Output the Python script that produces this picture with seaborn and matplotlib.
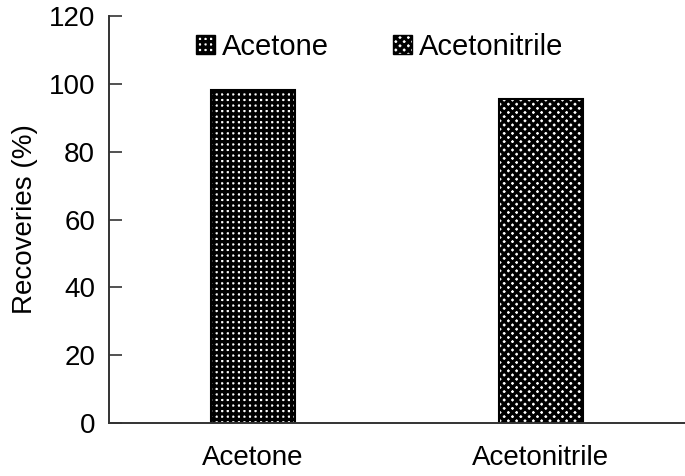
import numpy as np
import pandas as pd
import matplotlib
matplotlib.use('Agg')
import matplotlib.pyplot as plt
import seaborn as sns
from matplotlib.patches import Patch

# data
solvents = ['Acetone', 'Acetonitrile']
recoveries = [98.2, 95.6]
hatches = ['+++', 'xxxx']

df = pd.DataFrame({'solvent': solvents, 'recovery': recoveries})

sns.set_style('white')
plt.rcParams['font.family'] = ['Liberation Sans', 'DejaVu Sans']
plt.rcParams['hatch.linewidth'] = 2.4
plt.rcParams['text.color'] = 'black'
plt.rcParams['xtick.color'] = 'black'
plt.rcParams['ytick.color'] = 'black'
plt.rcParams['axes.labelcolor'] = 'black'

fig = plt.figure(figsize=(6.85, 4.76), dpi=100)
ax = fig.add_axes([109 / 685, 1 - 423 / 476, 576 / 685, 407 / 476])

sns.barplot(data=df, x='solvent', y='recovery', hue='solvent', ax=ax,
            width=0.29, legend=False, palette=['white', 'white'],
            edgecolor='black', linewidth=1.5)

for bar, h in zip(ax.patches, hatches):
    bar.set_hatch(h)

ax.set_ylim(0, 120)
ax.set_yticks(np.arange(0, 121, 20))
ax.set_xlim(-0.5, 1.5)
ax.set_xticks([0, 1])
ax.set_xticklabels(solvents)
ax.set_xticks([0.5], minor=True)
ax.tick_params(axis='x', which='major', length=0, labelsize=20, pad=16)
ax.tick_params(axis='x', which='minor', length=8, direction='in', width=1.2, color='#333333')
ax.tick_params(axis='y', length=9, direction='in', width=1.2, color='#333333',
               labelsize=20, pad=10, left=True)
ax.set_xlabel('')
ax.set_ylabel('Recoveries (%)', fontsize=20, labelpad=8)

for side in ['top', 'right']:
    ax.spines[side].set_visible(False)
for side in ['left', 'bottom']:
    ax.spines[side].set_color('#333333')
    ax.spines[side].set_linewidth(1.4)

handles = [Patch(facecolor='white', edgecolor='black', hatch=h, label=s)
           for s, h in zip(solvents, hatches)]
ax.legend(handles=handles, loc='center', bbox_to_anchor=(0.47, 0.925),
          ncol=2, frameon=False, fontsize=21, handlelength=0.65, handleheight=0.65,
          handletextpad=0.25, columnspacing=2.2)

fig.savefig('out.png', dpi=100)
